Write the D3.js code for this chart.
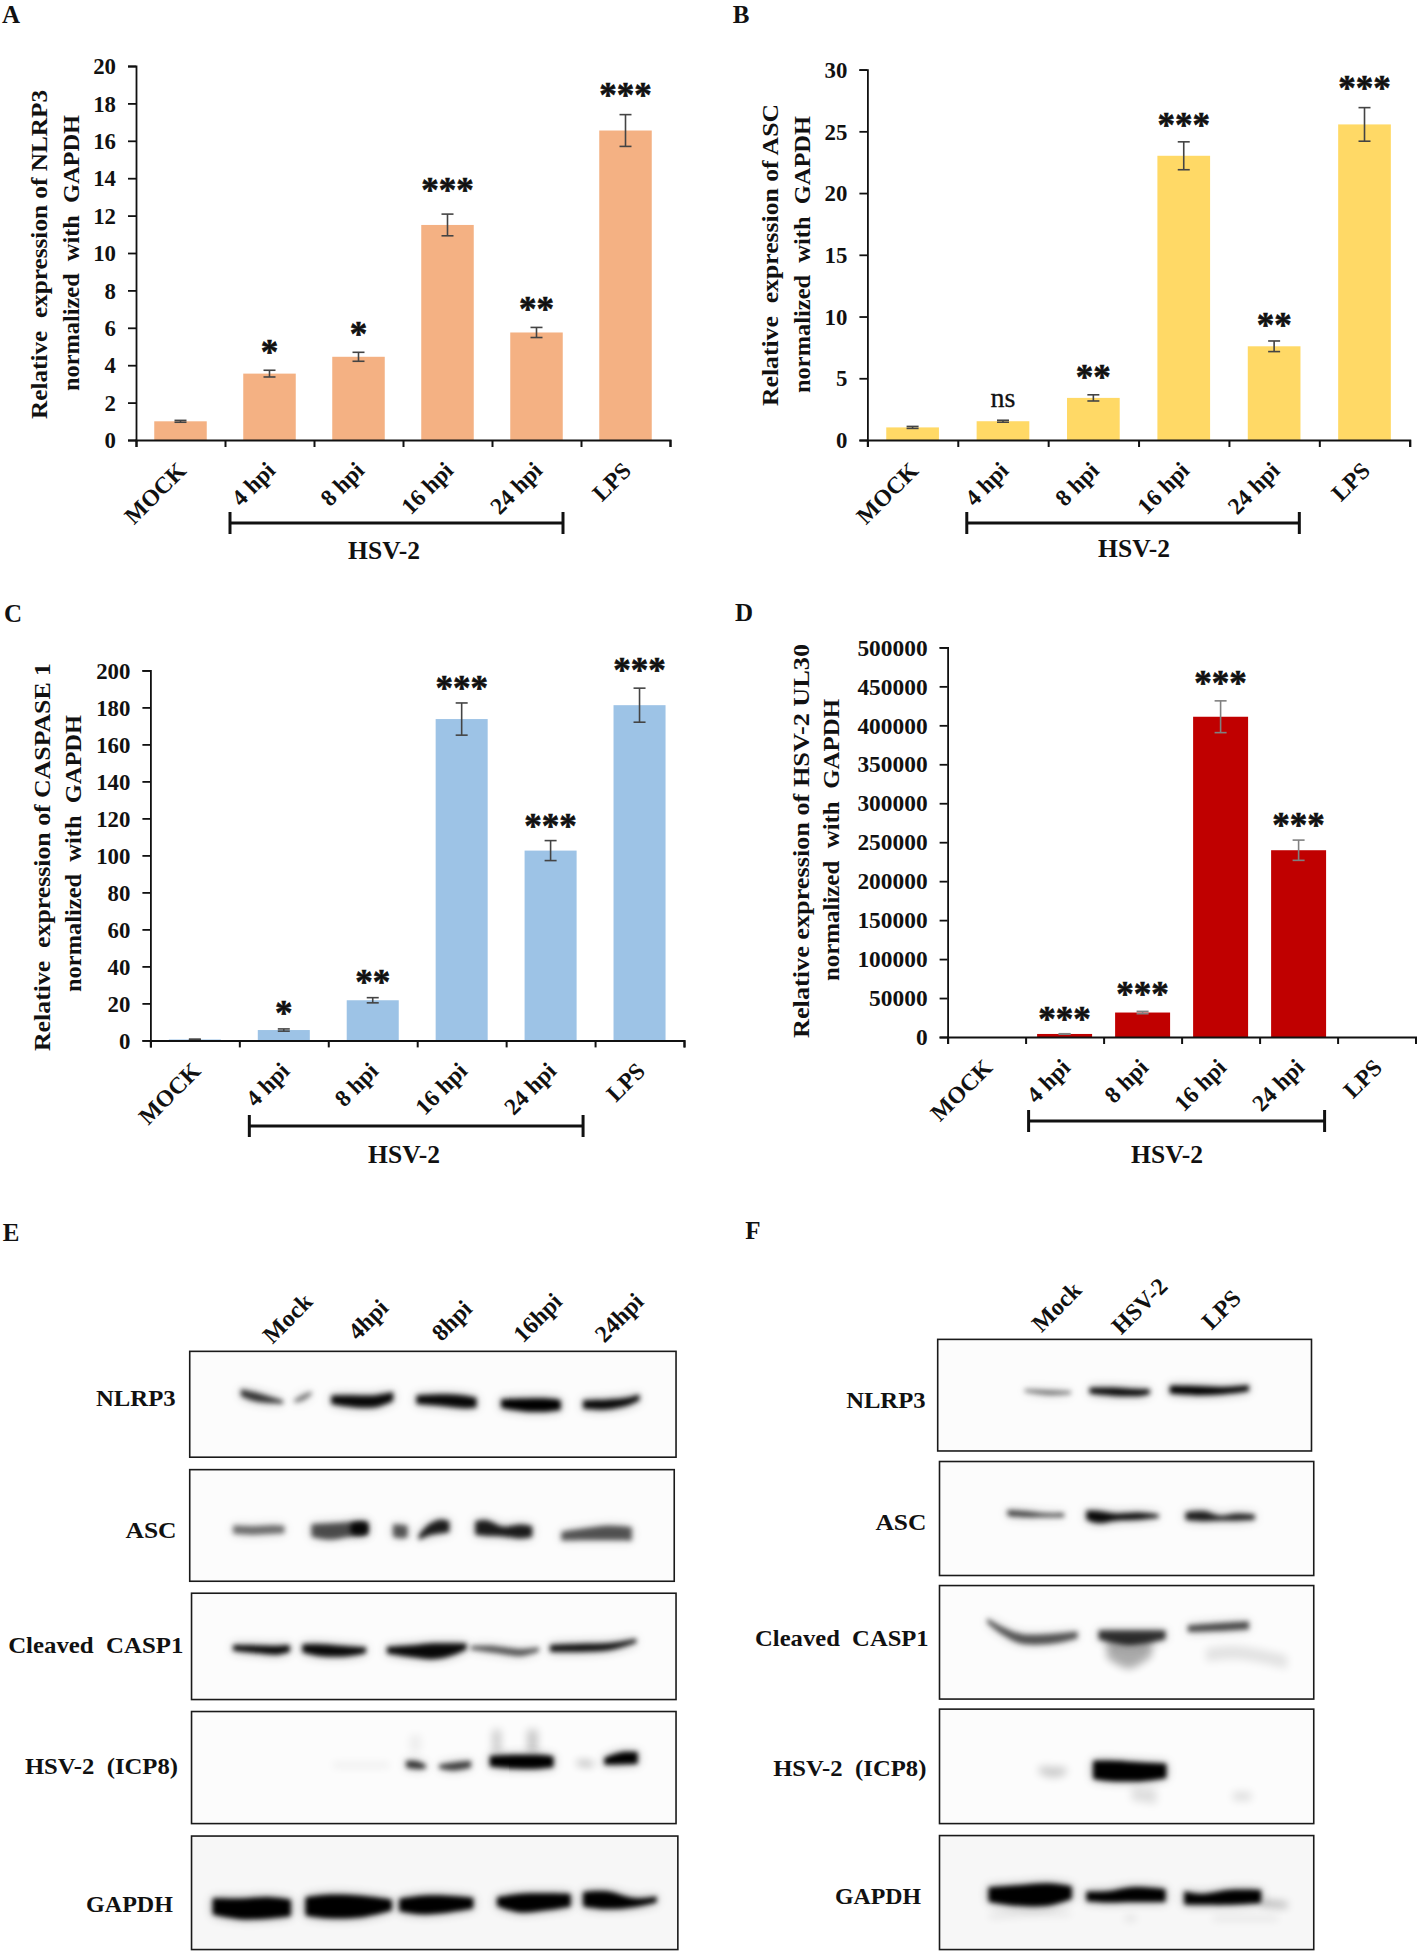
<!DOCTYPE html>
<html>
<head>
<meta charset="utf-8">
<title>HSV-2 inflammasome expression</title>
<script src="https://cdn.jsdelivr.net/npm/d3@7"></script>
<style>
  html, body { margin: 0; padding: 0; background: #fff; }
  svg { display: block; }
  text { font-family: "Liberation Serif", serif; font-weight: bold; fill: #111; white-space: pre; }
  .domain, .tick line { stroke: #111; }
</style>
</head>
<body>
<svg id="fig" width="1417" height="1951"></svg>
<script>
// ---- chart values ----
var categories = ["MOCK", "4 hpi", "8 hpi", "16 hpi", "24 hpi", "LPS"];

var nlrp3Values = [1.0, 3.55, 4.45, 11.5, 5.75, 16.55];
var nlrp3Errors = [0.05, 0.18, 0.24, 0.58, 0.27, 0.85];
var nlrp3Sig    = ["", "*", "*", "***", "**", "***"];
var nlrp3Ticks  = [0, 2, 4, 6, 8, 10, 12, 14, 16, 18, 20];

var ascValues = [1.02, 1.52, 3.41, 23.02, 7.59, 25.56];
var ascErrors = [0.08, 0.08, 0.25, 1.13, 0.43, 1.36];
var ascSig    = ["", "ns", "**", "***", "**", "***"];
var ascTicks  = [0, 5, 10, 15, 20, 25, 30];

var caspValues = [0.5, 5.6, 21.7, 173.7, 102.6, 181.2];
var caspErrors = [0.2, 0.6, 1.4, 8.7, 5.4, 9.2];
var caspSig    = ["", "*", "**", "***", "***", "***"];
var caspTicks  = [0, 20, 40, 60, 80, 100, 120, 140, 160, 180, 200];

var ul30Values = [0, 3900, 31400, 411000, 239700, 0];
var ul30Errors = [0, 300, 1500, 20400, 13000, 0];
var ul30Sig    = ["", "***", "***", "***", "***", ""];
var ul30Ticks  = [0, 50000, 100000, 150000, 200000, 250000, 300000, 350000, 400000, 450000, 500000];

// blot bands: [x, y centre, half thickness] on a 1568 grid per panel, then darkness
var bandsE = {
  NLRP3: [
    [0.75, [[532,402,7],[560,410,9],[600,418,6],[625,422,3]]],
    [0.5,  [[650,420,3],[670,412,6],[688,403,3]]],
    [0.95, [[732,417,9],[780,420,12],[830,420,12],[868,410,9]]],
    [0.95, [[920,417,9],[980,418,12],[1020,421,13],[1052,423,10]]],
    [1,    [[1107,425,9],[1160,428,13],[1210,428,13],[1238,428,10]]],
    [0.95, [[1288,427,9],[1340,427,10],[1385,421,8],[1412,412,6]]]
  ],
  ASC: [
    [0.5,  [[515,688,9],[560,690,9],[600,688,9],[628,688,8]]],
    [0.62, [[688,690,13],[730,692,17],[770,688,15],[812,685,14]]],
    [0.9,  [[775,686,10],[795,686,13],[812,686,10]]],
    [0.6,  [[868,690,13],[885,692,14],[900,692,12]]],
    [0.85, [[925,705,5],[945,690,11],[970,682,14],[992,682,11]]],
    [0.85, [[1050,685,14],[1075,685,16],[1110,692,10],[1150,692,14],[1175,692,11]]],
    [0.6,  [[1240,702,9],[1290,698,12],[1340,695,15],[1395,697,14]]]
  ],
  CASP: [
    [0.95, [[515,935,6],[570,938,8],[610,940,9],[640,936,7]]],
    [0.95, [[668,936,8],[710,940,12],[770,942,10],[808,940,6]]],
    [0.95, [[855,940,7],[910,942,12],[960,942,16],[1000,938,12],[1030,932,6]]],
    [0.6,  [[1040,935,4],[1090,938,7],[1150,945,7],[1190,938,4]]],
    [0.92, [[1215,936,7],[1280,935,8],[1350,932,7],[1405,920,4]]]
  ],
  ICP8: [
    [0.07, [[735,1180,5],[860,1180,5]]],
    [0.75, [[897,1178,7],[920,1180,8],[940,1183,4]]],
    [0.7,  [[970,1183,4],[1000,1183,8],[1040,1178,7]]],
    [0.2,  [[1088,1130,24],[1106,1130,24]]],
    [0.22, [[1165,1130,24],[1187,1130,24]]],
    [0.06, [[905,1135,18],[930,1135,18]]],
    [1,    [[1082,1172,11],[1140,1173,14],[1190,1173,14],[1222,1173,11]]],
    [0.32, [[1275,1175,5],[1310,1178,5]]],
    [1,    [[1335,1172,7],[1370,1166,12],[1408,1165,12]]]
  ],
  GAPDH: [
    [1, [[470,1475,17],[530,1480,21],[590,1478,22],[642,1478,17]]],
    [1, [[675,1475,19],[720,1475,24],[800,1475,22],[865,1472,11]]],
    [1, [[882,1472,13],[930,1472,19],[990,1470,17],[1045,1468,11]]],
    [1, [[1098,1465,9],[1150,1468,19],[1210,1465,17],[1260,1462,13]]],
    [1, [[1288,1460,15],[1340,1462,18],[1400,1467,9],[1450,1460,6]]]
  ]
};
var bandsF = {
  NLRP3: [
    [0.5,  [[698,398,3],[750,402,5],[800,402,3]]],
    [0.95, [[842,398,6],[890,400,8],[950,402,7],[975,400,5]]],
    [1,    [[1020,396,8],[1080,398,9],[1140,398,7],[1195,393,6]]]
  ],
  ASC: [
    [0.7,  [[660,653,6],[700,656,6],[740,658,4],[785,658,4]]],
    [0.95, [[835,658,9],[860,662,12],[900,662,7],[950,660,7],[995,660,3]]],
    [0.85, [[1055,660,8],[1095,660,10],[1130,664,5],[1170,662,7],[1208,662,5]]]
  ],
  CASP: [
    [0.6,  [[615,878,5],[650,900,8],[690,916,10],[760,916,10],[815,908,7]]],
    [0.32, [[880,935,20],[930,950,28],[980,935,16]]],
    [0.75, [[862,908,9],[930,914,15],[1010,908,9]]],
    [0.65, [[1060,895,7],[1120,892,8],[1195,888,8]]],
    [0.1,  [[1100,950,14],[1170,945,14],[1280,965,14]]]
  ],
  ICP8: [
    [0.2,  [[730,1190,7],[760,1195,11],[790,1192,7]]],
    [1,    [[850,1190,19],[890,1192,21],[960,1194,19],[1012,1192,15]]],
    [0.12, [[935,1240,13],[990,1245,16]]],
    [0.12, [[1160,1245,9],[1200,1245,9]]]
  ],
  GAPDH: [
    [1,    [[618,1450,15],[680,1452,21],[750,1450,23],[802,1446,13]]],
    [1,    [[835,1454,10],[880,1455,11],[940,1450,15],[1010,1452,13]]],
    [1,    [[1052,1457,14],[1090,1460,11],[1150,1456,15],[1222,1454,13]]],
    [0.33, [[1222,1468,6],[1280,1472,5]]],
    [0.12, [[620,1495,4],[720,1488,5],[800,1490,3]]],
    [0.14, [[1115,1500,3],[1260,1500,3]]],
    [0.14, [[920,1500,4],[945,1500,4]]]
  ]
};

var lanesE = ["Mock", "4hpi", "8hpi", "16hpi", "24hpi"];
var lanesF = ["Mock", "HSV-2", "LPS"];

// ---- layout ----
var svg = d3.select("#fig");
var defs = svg.append("defs");

function blurFilter(id, sd) {
    defs.append("filter").attr("id", id).attr("filterUnits", "userSpaceOnUse")
        .attr("x", 0).attr("y", 1200).attr("width", 1417).attr("height", 751)
      .append("feGaussianBlur").attr("stdDeviation", sd);
}
blurFilter("core", 2.4);
blurFilter("halo", 5.5);
blurFilter("soft", 4);

function panelLetter(s, x, y) {
    svg.append("text").attr("x", x).attr("y", y).attr("text-anchor", "middle").style("font-size", "25px").text(s);
}

function fitted(x, y, len, size, str, rot) {
    return svg.append("text")
        .attr("transform", "translate(" + x + "," + y + ") rotate(" + rot + ")")
        .attr("textLength", len).attr("lengthAdjust", "spacingAndGlyphs")
        .style("font-size", size + "px").text(str);
}

function barPanel(o) {
    var g = svg.append("g");
    var xBand = d3.scaleBand().domain(categories).range([o.left, o.right]).paddingInner(o.pad).paddingOuter(o.pad / 2);
    var xEdge = d3.scaleLinear().domain([0, categories.length]).range([o.left, o.right]);
    var y = d3.scaleLinear().domain(o.yDomain).range([o.bottom, o.top]);
    var step = xBand.step();

    g.selectAll(".bar").data(o.values).enter().append("rect")
        .attr("class", "bar")
        .attr("x", function(d, i) { return xBand(categories[i]); })
        .attr("width", xBand.bandwidth())
        .attr("y", function(d) { return y(d); })
        .attr("height", function(d) { return o.bottom - y(d); })
        .attr("fill", o.color);

    // error bars
    var errs = g.selectAll(".err").data(o.values).enter().append("g").attr("class", "err")
        .filter(function(d, i) { return o.errors[i] > 0 && d > 0; })
        .attr("stroke", o.errColor).attr("stroke-width", 1.6);
    function cx(i) { return xBand(categories[i]) + xBand.bandwidth() / 2; }
    var idx = function(d) { return o.values.indexOf(d); };
    errs.append("line")
        .attr("x1", function(d) { return cx(idx(d)); }).attr("x2", function(d) { return cx(idx(d)); })
        .attr("y1", function(d) { return y(d + o.errors[idx(d)]); }).attr("y2", function(d) { return y(d - o.errors[idx(d)]); });
    [1, -1].forEach(function(sign) {
        errs.append("line")
            .attr("x1", function(d) { return cx(idx(d)) - 6; }).attr("x2", function(d) { return cx(idx(d)) + 6; })
            .attr("y1", function(d) { return y(d + sign * o.errors[idx(d)]); })
            .attr("y2", function(d) { return y(d + sign * o.errors[idx(d)]); });
    });

    // significance marks
    g.selectAll(".sig").data(o.sig).enter().append("text")
        .attr("class", "sig")
        .attr("text-anchor", "middle")
        .attr("x", function(d, i) { return cx(i); })
        .attr("y", function(d, i) { return y(o.values[i] + o.errors[i]) - (d == "ns" ? 13 : 6) - o.sigLift[i]; })
        .style("font-size", function(d) { return d == "ns" ? "28px" : "35px"; })
        .style("font-weight", function(d) { return d == "ns" ? "normal" : "bold"; })
        .attr("stroke", "#111").attr("stroke-width", function(d) { return d == "ns" ? 0.3 : 0.6; })
        .text(function(d) { return d; });

    // axes
    var yAxis = d3.axisLeft(y).tickValues(o.ticks).tickSize(8).tickPadding(12).tickFormat(d3.format("d"));
    var gy = g.append("g").attr("transform", "translate(" + o.left + ",0)").call(yAxis);
    gy.selectAll("text").style("font-size", "24px")
        .attr("textLength", function(d) { return String(d).length * o.digitWidth; })
        .attr("lengthAdjust", "spacingAndGlyphs");
    gy.selectAll(".domain, .tick line").attr("stroke-width", 1.8);

    var xAxis = d3.axisBottom(xEdge).tickValues(d3.range(categories.length + 1)).tickSize(7).tickFormat("");
    var gx = g.append("g").attr("transform", "translate(0," + o.bottom + ")").call(xAxis);
    gx.selectAll(".domain, .tick line").attr("stroke-width", 2);

    g.selectAll(".cat").data(categories).enter().append("text")
        .attr("class", "cat")
        .attr("text-anchor", "end")
        .attr("transform", function(d) {
            return "translate(" + (xBand(d) + xBand.bandwidth() / 2 + 7) + "," + (o.bottom + 32) + ") rotate(-45)";
        })
        .style("font-size", "23.5px")
        .text(function(d) { return d; });

    // HSV-2 bracket
    var bx0 = xBand("4 hpi") - (step - xBand.bandwidth()) / 2 + o.bracket[0];
    var bx1 = xBand("24 hpi") + xBand.bandwidth() + (step - xBand.bandwidth()) / 2 + o.bracket[1];
    var br = g.append("g").attr("stroke", "#111").attr("stroke-width", 3);
    br.append("line").attr("x1", bx0).attr("x2", bx1).attr("y1", o.bracket[2]).attr("y2", o.bracket[2]);
    br.append("line").attr("x1", bx0).attr("x2", bx0).attr("y1", o.bracket[2] - 11).attr("y2", o.bracket[2] + 11);
    br.append("line").attr("x1", bx1).attr("x2", bx1).attr("y1", o.bracket[2] - 11).attr("y2", o.bracket[2] + 11);
    g.append("text").attr("x", o.hsvLabel[0]).attr("y", o.hsvLabel[1]).attr("text-anchor", "middle")
        .style("font-size", "25.5px").text("HSV-2");

    fitted(o.yLab1[0], o.yLab1[1], o.yLab1[2], 24, o.yText1, -90);
    fitted(o.yLab2[0], o.yLab2[1], o.yLab2[2], 24, o.yText2, -90);
}

function blotPanel(o) {
    var X = d3.scaleLinear().domain([0, 1568]).range(o.xRange);
    var Y = d3.scaleLinear().domain([0, 1568]).range([1200, 1951]);
    var area = d3.area().curve(d3.curveCatmullRom)
        .x(function(p) { return X(p[0]); })
        .y0(function(p) { return Y(p[1] - p[2]); })
        .y1(function(p) { return Y(p[1] + p[2]); });

    o.rows.forEach(function(r, i) {
        var b = r.box;
        var clipId = "clip" + o.id + i;
        defs.append("clipPath").attr("id", clipId).append("rect")
            .attr("x", X(b[0])).attr("y", Y(b[2])).attr("width", X(b[1]) - X(b[0])).attr("height", Y(b[3]) - Y(b[2]));
        var g = svg.append("g");
        g.append("rect").attr("x", X(b[0])).attr("y", Y(b[2]))
            .attr("width", X(b[1]) - X(b[0])).attr("height", Y(b[3]) - Y(b[2]))
            .attr("fill", r.name == "GAPDH" ? "#f7f7f7" : "#fcfcfc");
        var marks = g.append("g").attr("clip-path", "url(#" + clipId + ")");
        o.bands[r.key].forEach(function(band) {
            var dark = band[0], pts = band[1];
            if (dark < 0.35) {
                // faint smear, no sharp core
                marks.append("path").attr("d", area(pts)).attr("fill", "#000")
                    .attr("opacity", dark).attr("filter", "url(#soft)");
                return;
            }
            marks.append("path").attr("d", area(pts)).attr("fill", "#000")
                .attr("opacity", dark * 0.4).attr("filter", "url(#halo)");
            marks.append("path").attr("d", area(pts)).attr("fill", "#000")
                .attr("opacity", dark).attr("filter", "url(#core)");
        });
        g.append("rect").attr("x", X(b[0])).attr("y", Y(b[2]))
            .attr("width", X(b[1]) - X(b[0])).attr("height", Y(b[3]) - Y(b[2]))
            .attr("fill", "none").attr("stroke", "#1a1a1a").attr("stroke-width", 1.6);
        svg.append("text").attr("x", X(r.label[1])).attr("y", Y(r.label[2]))
            .attr("textLength", X(r.label[1]) - X(r.label[0])).attr("lengthAdjust", "spacingAndGlyphs")
            .attr("text-anchor", "start")
            .attr("dx", X(r.label[0]) - X(r.label[1]))
            .style("font-size", "24px").text(r.name);
    });

    o.lanes.forEach(function(l, i) {
        svg.append("text")
            .attr("transform", "translate(" + X(o.lanePos[i][0]) + "," + Y(o.lanePos[i][1]) + ") rotate(-45)")
            .style("font-size", "24px").text(l);
    });
}

// ---- panels A-D ----
barPanel({ left: 136, right: 670, bottom: 440, top: 66, pad: 0.41, yDomain: [0, 20], values: nlrp3Values, errors: nlrp3Errors,
    sig: nlrp3Sig, sigLift: [0, 0, 0, 6, 0, 2], ticks: nlrp3Ticks, color: "#F4B183", errColor: "#444", digitWidth: 11.4,
    bracket: [5, -18, 523], hsvLabel: [384, 559],
    yText1: "Relative  expression of NLRP3", yLab1: [47, 419, 329], yText2: "normalized  with  GAPDH", yLab2: [79, 391, 276] });

barPanel({ left: 867.4, right: 1409.7, bottom: 440, top: 69.6, pad: 0.417, yDomain: [0, 30], values: ascValues, errors: ascErrors,
    sig: ascSig, sigLift: [0, 0, 0, -1, -2, 2], ticks: ascTicks, color: "#FFD966", errColor: "#444", digitWidth: 11.4,
    bracket: [9, -20, 523], hsvLabel: [1134, 557],
    yText1: "Relative  expression of ASC", yLab1: [778, 406, 302], yText2: "normalized  with  GAPDH", yLab2: [810, 393, 277] });

barPanel({ left: 150.4, right: 684, bottom: 1040.4, top: 670.4, pad: 0.415, yDomain: [0, 200], values: caspValues, errors: caspErrors,
    sig: caspSig, sigLift: [0, -2, -2, -3, -3, 0], ticks: caspTicks, color: "#9DC3E6", errColor: "#444", digitWidth: 11.4,
    bracket: [10, -12, 1126], hsvLabel: [404, 1163],
    yText1: "Relative  expression of CASPASE 1", yLab1: [50, 1051, 388], yText2: "normalized  with  GAPDH", yLab2: [81, 992, 277] });

barPanel({ left: 947.6, right: 1415.6, bottom: 1037, top: 647.4, pad: 0.295, yDomain: [0, 500000], values: ul30Values, errors: ul30Errors,
    sig: ul30Sig, sigLift: [0, -3, -1, 0, -3, 0], ticks: ul30Ticks, color: "#C00000", errColor: "#808080", digitWidth: 11.7,
    bracket: [3, -13, 1121], hsvLabel: [1167, 1163],
    yText1: "Relative expression of HSV-2 UL30", yLab1: [809, 1038, 394], yText2: "normalized  with  GAPDH", yLab2: [839, 981, 282] });

// ---- panels E, F ----
blotPanel({ id: "E", xRange: [0, 710], bands: bandsE, lanes: lanesE,
    lanePos: [[602, 302], [790, 295], [975, 297], [1155, 300], [1335, 300]],
    rows: [
        { key: "NLRP3", name: "NLRP3", box: [419, 1493, 316, 537], label: [212, 388, 430] },
        { key: "ASC", name: "ASC", box: [419, 1489, 563, 796], label: [277, 390, 706] },
        { key: "CASP", name: "Cleaved  CASP1", box: [423, 1493, 821, 1043], label: [18, 405, 945] },
        { key: "ICP8", name: "HSV-2  (ICP8)", box: [423, 1493, 1068, 1302], label: [55, 393, 1198] },
        { key: "GAPDH", name: "GAPDH", box: [423, 1497, 1328, 1565], label: [190, 382, 1487] }
    ] });

blotPanel({ id: "F", xRange: [710, 1417], bands: bandsF, lanes: lanesF,
    lanePos: [[735, 278], [912, 283], [1112, 273]],
    rows: [
        { key: "NLRP3", name: "NLRP3", box: [505, 1334, 291, 524], label: [302, 478, 435] },
        { key: "ASC", name: "ASC", box: [509, 1339, 546, 784], label: [367, 480, 690] },
        { key: "CASP", name: "Cleaved  CASP1", box: [509, 1339, 805, 1042], label: [100, 485, 932] },
        { key: "ICP8", name: "HSV-2  (ICP8)", box: [509, 1339, 1063, 1302], label: [140, 480, 1203] },
        { key: "GAPDH", name: "GAPDH", box: [509, 1339, 1327, 1565], label: [277, 468, 1470] }
    ] });

panelLetter("A", 11, 22.5);
panelLetter("B", 741, 22.5);
panelLetter("C", 13, 622);
panelLetter("D", 744, 621);
panelLetter("E", 11, 1241);
panelLetter("F", 753, 1239);
</script>
</body>
</html>
